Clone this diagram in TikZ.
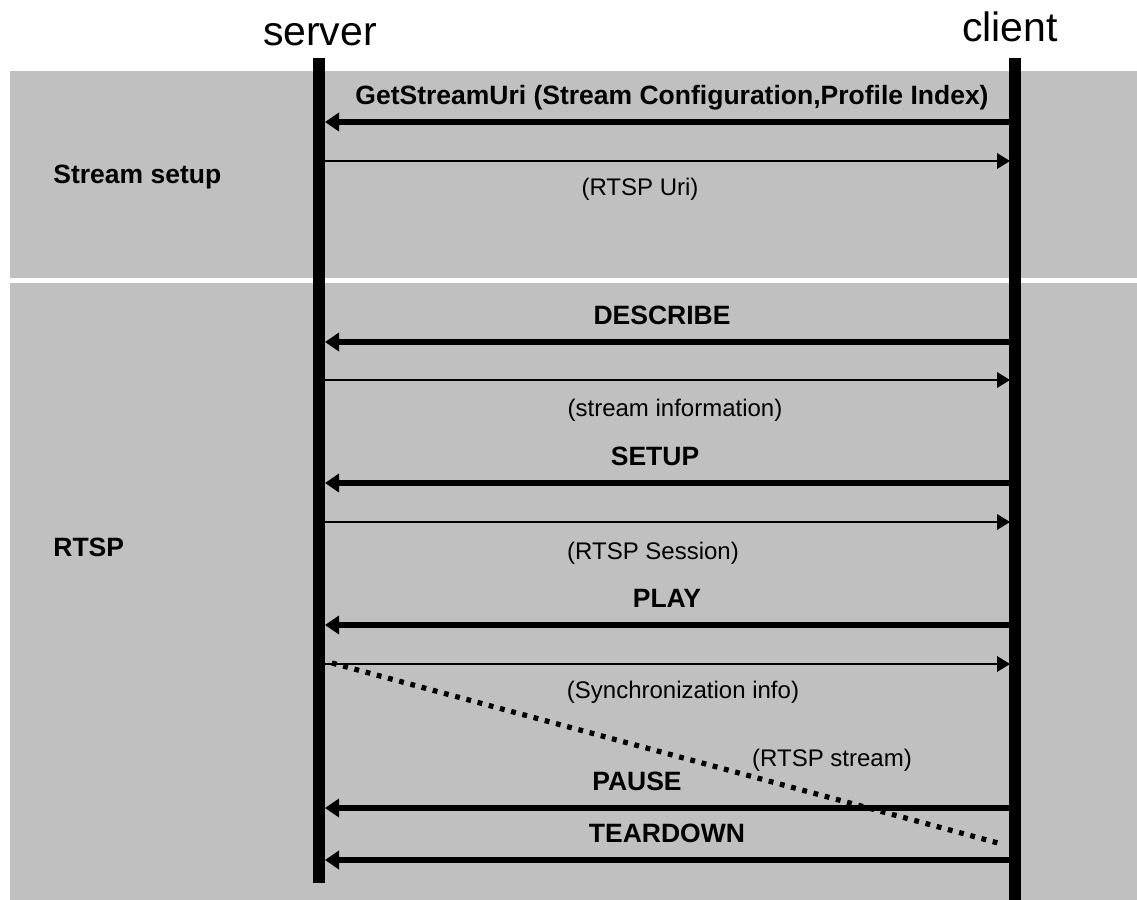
\documentclass[tikz,border=0pt]{standalone}
\usepackage{fontspec}
\setmainfont{Liberation Sans}
\usetikzlibrary{arrows.meta,positioning}
\definecolor{bandgray}{HTML}{C0C0C0}

\begin{document}
\begin{tikzpicture}[x=0.5pt,y=-0.5pt,
    lifeline/.style={line width=6pt},
    call/.style={line width=2.8pt,-{Triangle[length=7pt,width=9pt]}},
    reply/.style={line width=0.8pt,-{Triangle[length=6.5pt,width=7.8pt]}},
    stream/.style={line width=2.6pt,dash pattern=on 2.4pt off 3.4pt},
    party/.style={font=\fontsize{20.5}{24}\selectfont,anchor=base},
    msglabel/.style={font=\fontsize{13.25}{16}\selectfont\bfseries,anchor=base},
    replylabel/.style={font=\fontsize{12}{14}\selectfont,anchor=base},
    grouplabel/.style={font=\fontsize{13.25}{16}\selectfont\bfseries,anchor=base west,inner sep=0pt}]
    \useasboundingbox (0,0) rectangle (1137,900);

    % Bands
    \fill[bandgray] (10,71) rectangle (1137,278);
    \fill[bandgray] (10,283) rectangle (1137,900);
    \node[grouplabel] (setupLbl) at (53,183) {Stream setup};
    \node[grouplabel] (rtspLbl) at (53,556) {RTSP};

    % Lifelines
    \node[party] (server) at (320,45) {server};
    \node[party] (client) at (1010,41) {client};
    \coordinate (srvTop) at (319,58); \coordinate (srvBot) at (319,883);
    \coordinate (cliTop) at (1015,58); \coordinate (cliBot) at (1015,900);
    \draw[lifeline] (srvTop) -- (srvBot);
    \draw[lifeline] (cliTop) -- (cliBot);

    % Requests
    \foreach \y/\lx/\txt [count=\i] in {122/672/{GetStreamUri (Stream Configuration,Profile Index)},
            342/662/DESCRIBE, 483/655/SETUP, 625/667/PLAY, 808/637/PAUSE, 860/667/TEARDOWN} {
        \coordinate (reqC\i) at (1010,\y);
        \coordinate (reqS\i) at (325,\y);
        \draw[call] (reqC\i) -- (reqS\i);
        \node[msglabel] (reqLbl\i) at (\lx,\y-18) {\txt};
    }

    % Replies
    \foreach \y/\lx/\ly/\txt [count=\i] in {161/640/195/(RTSP Uri), 380/675/416/(stream information),
            522/653/559/(RTSP Session), 664/683/698/(Synchronization info)} {
        \coordinate (repS\i) at (325,\y);
        \coordinate (repC\i) at (1010,\y);
        \draw[reply] (repS\i) -- (repC\i);
        \node[replylabel] (repLbl\i) at (\lx,\ly) {\txt};
    }

    % Stream
    \coordinate (strmS) at (332,663);
    \coordinate (strmC) at (998,843);
    \draw[stream] (strmS) -- (strmC);
    \node[replylabel] (strmLbl) at (832,766) {(RTSP stream)};
\end{tikzpicture}
\end{document}
